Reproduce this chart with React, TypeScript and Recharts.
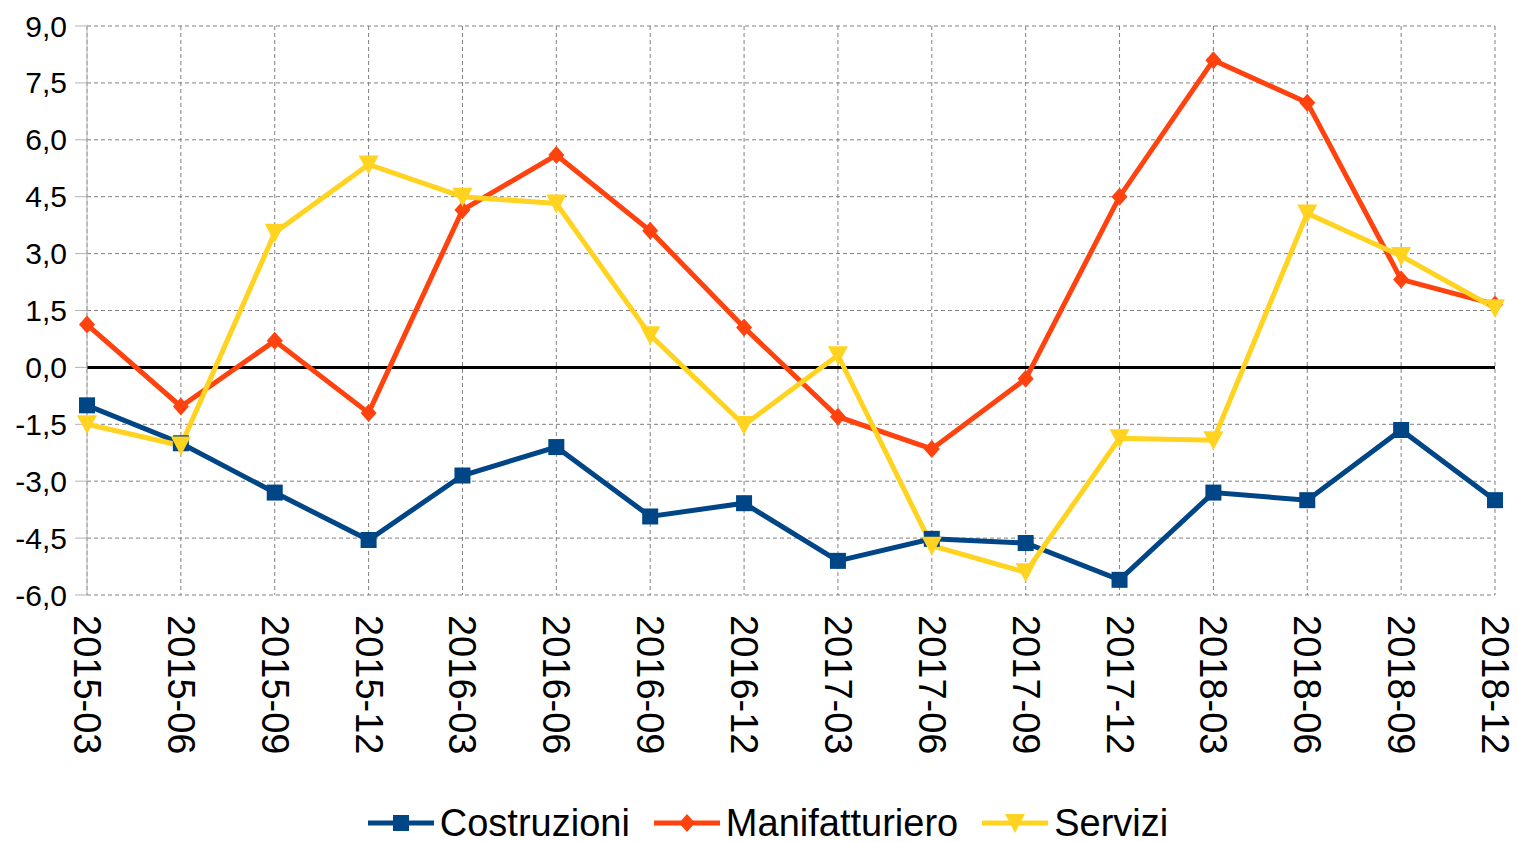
import { LineChart, Line, XAxis, YAxis, CartesianGrid, ReferenceLine, Legend } from "recharts";

const periods = [
  "2015-03", "2015-06", "2015-09", "2015-12",
  "2016-03", "2016-06", "2016-09", "2016-12",
  "2017-03", "2017-06", "2017-09", "2017-12",
  "2018-03", "2018-06", "2018-09", "2018-12",
];
const costruzioni = [-1.0, -2.0, -3.3, -4.55, -2.85, -2.1, -3.93, -3.58, -5.1, -4.52, -4.63, -5.6, -3.3, -3.5, -1.65, -3.5];
const manifatturiero = [1.13, -1.03, 0.7, -1.2, 4.15, 5.6, 3.6, 1.05, -1.3, -2.15, -0.3, 4.5, 8.1, 6.98, 2.32, 1.66];
const servizi = [-1.5, -2.06, 3.55, 5.35, 4.5, 4.32, 0.85, -1.52, 0.32, -4.7, -5.4, -1.87, -1.92, 4.06, 2.94, 1.56];
const yTicks = [-6, -4.5, -3, -1.5, 0, 1.5, 3, 4.5, 6, 7.5, 9];

const seriesInfo = [
  { key: "costruzioni", name: "Costruzioni", color: "#004586", shape: "square" },
  { key: "manifatturiero", name: "Manifatturiero", color: "#ff420e", shape: "diamond" },
  { key: "servizi", name: "Servizi", color: "#ffd320", shape: "triangle" },
];

const data = periods.map((p, i) => ({
  period: p,
  costruzioni: costruzioni[i],
  manifatturiero: manifatturiero[i],
  servizi: servizi[i],
}));

const FONT = "'Liberation Sans', Arial, sans-serif";

function Marker({ cx, cy, shape, color }: { cx: number; cy: number; shape: string; color: string }) {
  if (cx == null || cy == null) return null;
  if (shape === "square") {
    return <rect x={cx - 8} y={cy - 8} width={16} height={16} fill={color} />;
  }
  if (shape === "diamond") {
    return <polygon points={`${cx},${cy - 9} ${cx + 8},${cy} ${cx},${cy + 9} ${cx - 8},${cy}`} fill={color} />;
  }
  return <polygon points={`${cx - 10},${cy - 9} ${cx + 10},${cy - 9} ${cx},${cy + 10}`} fill={color} />;
}

const XTick = (props: any) => {
  const { x, y, payload } = props;
  return (
    <text
      x={x}
      y={y}
      transform={`rotate(90 ${x} ${y})`}
      textAnchor="start"
      dominantBaseline="central"
      fontSize={38}
      fontFamily={FONT}
      fill="#000"
    >
      {payload.value}
    </text>
  );
};

const YTick = (props: any) => {
  const { x, y, payload } = props;
  return (
    <text x={x} y={y} textAnchor="end" dominantBaseline="central" fontSize={30} fontFamily={FONT} fill="#000">
      {payload.value.toFixed(1).replace(".", ",")}
    </text>
  );
};

const LegendContent = () => (
  <div style={{ display: "flex", justifyContent: "center", alignItems: "center", paddingLeft: 43, paddingTop: 26, fontFamily: FONT, fontSize: 38 }}>
    {seriesInfo.map((s) => (
      <div key={s.key} style={{ display: "flex", alignItems: "center", marginRight: 24 }}>
        <svg width={66} height={24} style={{ marginRight: 6 }}>
          <line x1={0} y1={12} x2={66} y2={12} stroke={s.color} strokeWidth={5} />
          <Marker cx={33} cy={12} shape={s.shape} color={s.color} />
        </svg>
        <span style={{ lineHeight: "38px" }}>{s.name}</span>
      </div>
    ))}
  </div>
);

export default function App() {
  return (
    <div style={{ position: "absolute", left: 0, top: 0, width: 1517, height: 842, background: "#fff" }}>
      <LineChart width={1517} height={842} data={data} margin={{ top: 26, right: 22, bottom: 0, left: 0 }}>
        <CartesianGrid stroke="#808080" strokeDasharray="4 3" />
        <XAxis
          dataKey="period"
          axisLine={false}
          tickLine={false}
          tickSize={0}
          tickMargin={20}
          height={183}
          interval={0}
          tick={<XTick />}
        />
        <YAxis
          domain={[-6, 9]}
          ticks={yTicks}
          width={87}
          axisLine={{ stroke: "#b3b3b3", strokeWidth: 1 }}
          tickLine={{ stroke: "#b3b3b3" }}
          tickSize={12}
          tickMargin={8}
          interval={0}
          tick={<YTick />}
        />
        <ReferenceLine y={0} stroke="#000" strokeWidth={3} />
        {seriesInfo.map((s) => (
          <Line
            key={s.key}
            dataKey={s.key}
            name={s.name}
            type="linear"
            stroke={s.color}
            strokeWidth={5}
            isAnimationActive={false}
            dot={(p: any) => <Marker key={`${s.key}-${p.index}`} cx={p.cx} cy={p.cy} shape={s.shape} color={s.color} />}
            activeDot={false}
          />
        ))}
        <Legend
          verticalAlign="bottom"
          content={<LegendContent />}
          wrapperStyle={{ left: 0, width: 1517, bottom: 0, height: 64 }}
        />
      </LineChart>
    </div>
  );
}
